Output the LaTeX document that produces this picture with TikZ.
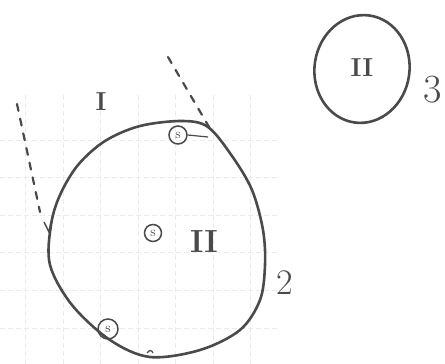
\documentclass[tikz,border=0pt]{standalone}
\usetikzlibrary{calc,shapes.geometric}
\definecolor{ink}{HTML}{4A4A4A}
\begin{document}
\begin{tikzpicture}[x=1pt,y=-1pt,
  pen/.style={draw=ink,line width=2.6pt,line cap=round,line join=round},
  dashpen/.style={draw=ink,line width=2.2pt,line cap=round,dash pattern=on 7pt off 8pt},
  smallring/.style={circle,draw=ink,line width=1.5pt,inner sep=0pt,minimum size=#1,font=\fontsize{14}{14}\selectfont,text=ink},
  roman/.style={text=ink,font=\bfseries\fontsize{#1}{#1}\selectfont},
  num/.style={text=ink,font=\fontsize{#1}{#1}\selectfont},
  gridline/.style={draw=black!8,line width=0.6pt,dash pattern=on 5pt off 3pt}]
\useasboundingbox (0,0) rectangle (445,364);
% faint graph paper
\foreach \gx in {25,63,100,138,175,213,250}{\draw[gridline] (\gx,95) -- (\gx,364);}
\foreach \gy in {140,177,215,252,290,328}{\draw[gridline] (0,\gy) -- (280,\gy);}
% big region 2
\draw[pen] plot[smooth cycle,tension=0.55] coordinates{
 (182,121) (208,127) (232,156) (252,190) (263,230) (265,265) (260,300)
 (240,330) (200,350) (150,357) (110,340) (72,305) (50,265) (51,225)
 (60,195) (78,165) (105,141) (140,126)};
% region 3
\node[ellipse,draw=ink,line width=2.6pt,minimum width=95pt,minimum height=108pt,inner sep=0pt,rotate=-8] (c3) at (362,69) {};
% dashed boundaries
\coordinate (dl1) at (17,104);
\coordinate (dl2) at (40,212);
\coordinate (dr1) at (168,57);
\coordinate (dr2) at (212,132);
\draw[dashpen] (dl1) -- (dl2);
\draw[dashpen] (dr1) -- (dr2);
\draw[draw=ink,line width=1.4pt] (44,222) -- (49,232) -- (51,222);
% labels
\node[roman=26] (lI) at (101,102) {I};
\node[roman=32] (lII) at (204,242) {II};
\node[roman=26] (lII3) at (362,68) {II};
\node[num=36] (l2) at (285,283) {2};
\node[num=40] (l3) at (433,90) {3};
% source marks
\node[smallring=18pt] (s1) at (178,135) {s};
\node[smallring=17pt] (s2) at (153,233) {s};
\node[smallring=20pt] (s3) at (108,329) {s};
\draw[draw=ink,line width=1.2pt] (s1.east) -- (208,137);
\coordinate (tk) at (148,352);
\draw[draw=ink,line width=1.2pt] ($(tk)+(5,1)$) arc[start angle=10,end angle=170,radius=3pt];
\end{tikzpicture}
\end{document}
